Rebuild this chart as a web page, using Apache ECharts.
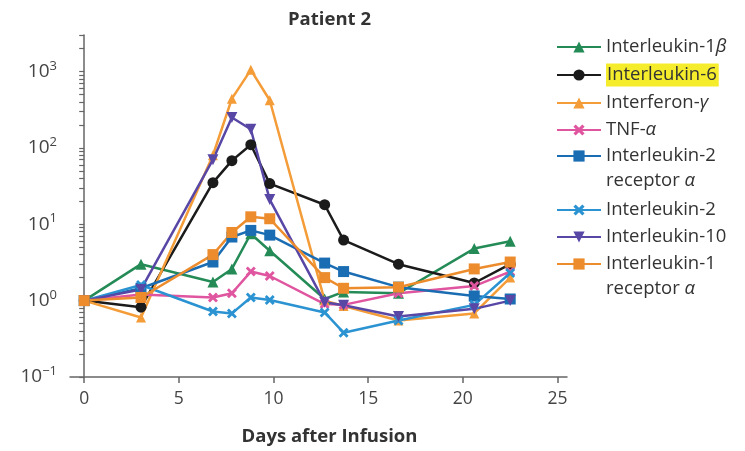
<!DOCTYPE html>
<html><head><meta charset="utf-8">
<script src="https://cdn.jsdelivr.net/npm/echarts@6/dist/echarts.min.js"></script>
<style>html,body{margin:0;padding:0;background:#fff}#c{width:745px;height:451px}</style>
</head><body><div id="c"></div>
<script>
const days = [0, 3, 6.8, 7.8, 8.8, 9.8, 12.7, 13.7, 16.6, 20.6, 22.5];
const il1b  = [1, 3.0, 1.75, 2.6, 7.5, 4.5, 1.05, 1.3, 1.25, 4.8, 6.0];
const il6   = [1, 0.82, 35, 68, 110, 34, 18, 6.2, 3.0, 1.7, 3.0];
const ifng  = [1, 0.6, 80, 440, 1050, 420, 1.0, 0.85, 0.55, 0.68, 2.0];
const tnf   = [1, 1.2, 1.1, 1.25, 2.4, 2.1, 0.9, 0.88, 1.25, 1.55, 2.4];
const il2ra = [1, 1.45, 3.2, 6.8, 8.3, 7.2, 3.1, 2.4, 1.5, 1.15, 1.05];
const il2   = [1, 1.6, 0.72, 0.68, 1.1, 1.02, 0.7, 0.38, 0.55, 0.88, 2.3];
const il10  = [1, 1.4, 70, 250, 175, 21, 0.95, 0.87, 0.62, 0.78, 1.0];
const il1ra = [1, 1.1, 4.0, 7.8, 12.5, 11.8, 2.0, 1.45, 1.5, 2.6, 3.2];
const xTicks = [0, 5, 10, 15, 20, 25];
const yMajor = [0.1, 1, 10, 100, 1000];

const yMinor = [];
for (let e = -1; e <= 3; e++) for (let m = 1; m <= 9; m++) { const v = m * Math.pow(10, e); if (v <= 3000.001) yMinor.push(+v.toPrecision(3)); }

const FONT = 'Open Sans';
const X_PATH = 'path://M2,0 L5,3 L8,0 L10,2 L7,5 L10,8 L8,10 L5,7 L2,10 L0,8 L3,5 L0,2 Z';
const seriesDefs = [
  {name: 'Interleukin-1β', data: il1b, color: '#248b57', symbol: 'triangle', size: 11, label: 'Interleukin-1{i|β}'},
  {name: 'Interleukin-6', data: il6, color: '#1b1b1b', symbol: 'circle', size: 11, label: 'Interleukin-6', hl: true},
  {name: 'Interferon-γ', data: ifng, color: '#f39c38', symbol: 'triangle', size: 10, label: 'Interferon-{i|γ}'},
  {name: 'TNF-α', data: tnf, color: '#e0559f', symbol: X_PATH, size: 10, label: 'TNF-{i|α}'},
  {name: 'Interleukin-2 receptor α', data: il2ra, color: '#1a6db3', symbol: 'rect', size: 11, label: 'Interleukin-2\nreceptor {i|α}', two: true},
  {name: 'Interleukin-2', data: il2, color: '#2b93d1', symbol: X_PATH, size: 10, label: 'Interleukin-2'},
  {name: 'Interleukin-10', data: il10, color: '#5947a6', symbol: 'triangle', rotate: 180, size: 11, label: 'Interleukin-10'},
  {name: 'Interleukin-1 receptor α', data: il1ra, color: '#ec8c2c', symbol: 'rect', size: 11, label: 'Interleukin-1\nreceptor {i|α}', two: true}
];
const legendCenters = [47, 75, 103, 130, 156, 210, 237, 264];
const LH = 25;
const LFS = 18.5;

const legends = seriesDefs.map((s, i) => {
  const ts = {fontFamily: FONT, fontSize: LFS, color: '#333', lineHeight: LH,
    rich: {i: {fontStyle: 'italic', fontFamily: FONT, fontSize: LFS, color: '#333', lineHeight: LH}}};
  if (s.hl) { ts.backgroundColor = '#f5ec2c'; ts.padding = [0, 2, 0, 1]; ts.lineHeight = 23; ts.rich = {}; }
  let top = legendCenters[i] - (s.hl ? 23 : LH) / 2;
  if (s.two) { ts.padding = [LH, 0, 0, 0]; top = legendCenters[i] - LH * 1.5; }
  return {
    orient: 'vertical', left: 556, top: top, itemWidth: 44, itemHeight: 14, itemGap: 0, padding: 0,
    data: [s.name], textStyle: ts, formatter: () => s.label, selectedMode: false
  };
});

const chart = echarts.init(document.getElementById('c'), null, {renderer: 'canvas'});
chart.setOption({
  animation: false,
  backgroundColor: '#fff',
  title: {text: 'Patient 2', left: 283, top: 5,
    textStyle: {fontFamily: FONT, fontWeight: 'bold', fontSize: 18.5, color: '#333'}},
  grid: {left: 70, top: 35, right: 178, bottom: 74, containLabel: false},
  legend: legends,
  xAxis: {
    type: 'value', min: -0.75, max: 25.5,
    name: 'Days after Infusion', nameLocation: 'middle', nameGap: 50,
    nameTextStyle: {fontFamily: FONT, fontWeight: 'bold', fontSize: 18.5, color: '#333', padding: [0, 0, 0, 22]},
    axisLine: {show: true, onZero: false, lineStyle: {color: '#666', width: 1.5}},
    axisTick: {show: true, length: 6, customValues: xTicks, lineStyle: {color: '#666', width: 1.5}},
    axisLabel: {customValues: xTicks, fontFamily: FONT, fontSize: 17.5, color: '#444', margin: 13},
    splitLine: {show: false}
  },
  yAxis: {
    type: 'log', logBase: 10, min: 0.1, max: 3000,
    axisLine: {show: true, lineStyle: {color: '#666', width: 1.5}},
    axisTick: {show: true, length: 5, customValues: yMinor, lineStyle: {color: '#666', width: 1.2}},
    axisLabel: {customValues: yMajor, margin: 13,
      formatter: v => { const e = Math.round(Math.log10(v)); return '{b|10}{s|' + (e < 0 ? '\u2212' + (-e) : e) + '}'; },
      rich: {b: {fontFamily: FONT, fontSize: 19, color: '#444', lineHeight: 24},
             s: {fontFamily: FONT, fontSize: 13, color: '#444', verticalAlign: 'top', lineHeight: 24}}},
    splitLine: {show: false}, minorTick: {show: false}
  },
  series: seriesDefs.map(s => ({
    name: s.name, type: 'line', data: days.map((d, i) => [d, s.data[i]]),
    symbol: s.symbol, symbolSize: s.size, symbolRotate: s.rotate || 0, showAllSymbol: true,
    lineStyle: {color: s.color, width: 2.5}, itemStyle: {color: s.color}, color: s.color
  }))
});
</script></body></html>
